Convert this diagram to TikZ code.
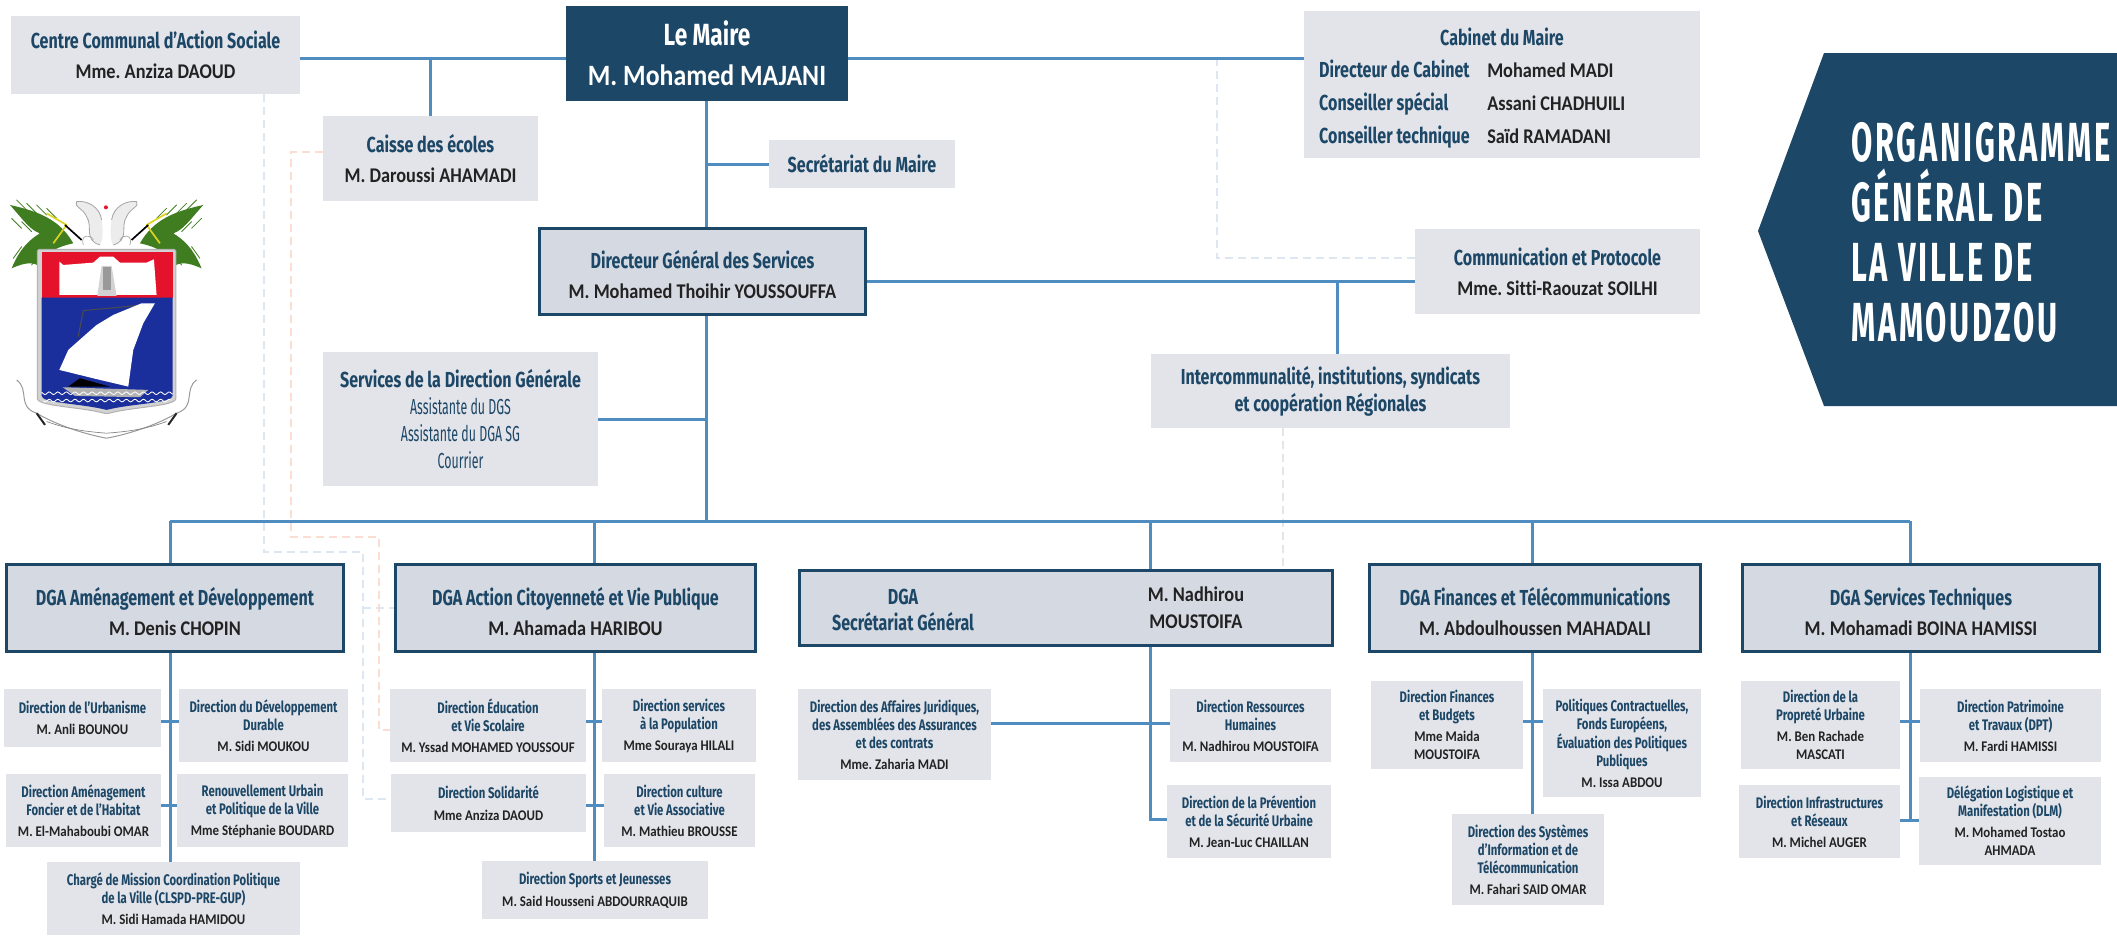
\documentclass[tikz,border=0pt]{standalone}
\usepackage{fontspec}
\setmainfont{Carlito}
\newfontfamily\ttlfont[FakeStretch=0.74,Scale=1.09]{Fira Sans}
\newfontfamily\itmfont[FakeStretch=0.57,Scale=1.09]{Fira Sans}
\newfontfamily\nomfont[FakeStretch=0.875,Scale=1.05,Ligatures=CommonOff]{Carlito}
\newfontfamily\bigfont[FakeStretch=0.56,LetterSpace=5]{Fira Sans}
\frenchspacing
\definecolor{navy}{HTML}{1D4766}
\definecolor{boxgrey}{HTML}{E3E4EA}
\definecolor{dgagrey}{HTML}{D5D9E2}
\definecolor{linkblue}{HTML}{4F8CBF}
\definecolor{nomcol}{HTML}{222222}
\definecolor{dashblue}{HTML}{DCE7F1}
\definecolor{dashpink}{HTML}{FBDDD2}
\definecolor{dashgrey}{HTML}{E4E5E9}
\definecolor{crestred}{HTML}{E4122B}
\definecolor{crestblue}{HTML}{1B2F9C}
\definecolor{crestgreen}{HTML}{3F7D20}
\def\px{0.03cm}
\newcommand{\ttl}[1]{{\color{navy}\ttlfont\bfseries #1}}
\newcommand{\dtl}[1]{\rule{0pt}{21pt}{\color{navy}\ttlfont\bfseries #1}}
\newcommand{\nom}[1]{{\color{nomcol}\nomfont\bfseries #1}}
\newcommand{\itm}[1]{{\color{navy}\itmfont #1}}
\tikzset{
    wh/.style 2 args={minimum width=#1*\px,minimum height=#2*\px},
    box/.style={fill=boxgrey,inner sep=0pt,align=center},
    dga/.style={box,fill=dgagrey,draw=navy,line width=3*\px},
    lvlA/.style={font=\fontsize{17}{25.6}\selectfont},
    lvlB/.style={font=\fontsize{17}{22.8}\selectfont},
    lvlC/.style={font=\fontsize{12}{15.4}\selectfont},
    link/.style={draw=linkblue,line width=3*\px},
    dashlink/.style={line width=1.5*\px,dash pattern=on 8*\px off 5*\px},
    plain/.style={inner sep=0pt,align=center,lvlA},
    frond/.style={crestgreen,line width=0.025cm,line cap=round}
}
\begin{document}
\begin{tikzpicture}[x=\px,y=-\px]
    \useasboundingbox (0,0) rectangle (2117,938);

    \coordinate (ccasA) at (264,552);
    \coordinate (ccasB) at (363,552);
    \coordinate (caisA) at (291,537);
    \coordinate (caisB) at (379,537);
    \coordinate (cabA) at (1217,58);

    % Top boxes
    \node[box,wh={289}{78},lvlA] (ccas) at (155.5,55) {\ttl{Centre Communal d’Action Sociale}\\\nom{Mme. Anziza DAOUD}};
    \node[box,fill=navy,wh={282}{95},font=\fontsize{24}{34}\selectfont] (maire) at (707,53.5) {{\color{white}\ttlfont\bfseries Le Maire}\\{\color{white}\nomfont\bfseries M. Mohamed MAJANI}};
    \node[box,wh={215}{85},lvlA] (caisse) at (430.5,158.5) {\ttl{Caisse des écoles}\\\nom{M. Daroussi AHAMADI}};
    \node[box,wh={186}{48},lvlA] (secr) at (862,164) {\ttl{Secrétariat du Maire}};
    \node[dga,wh={326}{86},lvlA] (dgs) at (702.5,271.5) {\dtl{Directeur Général des Services}\\\nom{M. Mohamed Thoihir YOUSSOUFFA}};
    \node[box,wh={396}{147}] (cab) at (1502,84.5) {};
    \node[box,wh={285}{85},lvlA] (comm) at (1557.5,271.5) {\ttl{Communication et Protocole}\\\nom{Mme. Sitti-Raouzat SOILHI}};
    \node[box,wh={275}{134},lvlB] (serv) at (460.5,419) {\ttl{Services de la Direction Générale}\\\itm{Assistante du DGS}\\\itm{Assistante du DGA SG}\\\itm{Courrier}};
    \node[box,wh={359}{74},lvlB] (inter) at (1330.5,391) {\ttl{Intercommunalité, institutions, syndicats}\\\ttl{et coopération Régionales}};

    % Cabinet rows
    \node[plain] (cabT) at (1502,37) {\ttl{Cabinet du Maire}};
    \node[plain,anchor=base west] (cabA1) at (1319,77) {\ttl{Directeur de Cabinet}};
    \node[plain,anchor=base west] (cabA2) at (1487,77) {\nom{Mohamed MADI}};
    \node[plain,anchor=base west] (cabB1) at (1319,110) {\ttl{Conseiller spécial}};
    \node[plain,anchor=base west] (cabB2) at (1487,110) {\nom{Assani CHADHUILI}};
    \node[plain,anchor=base west] (cabC1) at (1319,143) {\ttl{Conseiller technique}};
    \node[plain,anchor=base west] (cabC2) at (1487,143) {\nom{Saïd RAMADANI}};

    % DGA row
    \node[dga,wh={337}{87},lvlA] (dga1) at (175,608) {\dtl{DGA Aménagement et Développement}\\\nom{M. Denis CHOPIN}};
    \node[dga,wh={360}{87},lvlA] (dga2) at (575.5,608) {\dtl{DGA Action Citoyenneté et Vie Publique}\\\nom{M. Ahamada HARIBOU}};
    \node[dga,wh={533}{75}] (dga3) at (1066,608) {};
    \node[plain,lvlB] (dga3T) at (903,610) {\ttl{DGA}\\\ttl{Secrétariat Général}};
    \node[plain,lvlB] (dga3N) at (1196,608) {\nom{M. Nadhirou}\\\nom{MOUSTOIFA}};
    \node[dga,wh={331}{87},lvlA] (dga4) at (1535,608) {\dtl{DGA Finances et Télécommunications}\\\nom{M. Abdoulhoussen MAHADALI}};
    \node[dga,wh={357}{87},lvlA] (dga5) at (1921,608) {\dtl{DGA Services Techniques}\\\nom{M. Mohamadi BOINA HAMISSI}};

    % Directions
    \node[box,wh={157}{58},lvlC] (urb) at (82.5,718) {\ttl{Direction de l’Urbanisme}\\[3pt]\nom{M. Anli BOUNOU}};
    \node[box,wh={169}{73},lvlC] (dev) at (263.5,725.5) {\ttl{Direction du Développement}\\\ttl{Durable}\\[2.5pt]\nom{M. Sidi MOUKOU}};
    \node[box,wh={155}{73},lvlC] (amen) at (83.5,810.5) {\ttl{Direction Aménagement}\\\ttl{Foncier et de l’Habitat}\\[2.5pt]\nom{M. El-Mahaboubi OMAR}};
    \node[box,wh={171}{73},lvlC] (ren) at (262.5,810.5) {\ttl{Renouvellement Urbain}\\\ttl{et Politique de la Ville}\\[2.5pt]\nom{Mme Stéphanie BOUDARD}};
    \node[box,wh={253}{73},lvlC] (charge) at (173.5,898.5) {\ttl{Chargé de Mission Coordination Politique}\\\ttl{de la Ville (CLSPD-PRE-GUP)}\\[2.5pt]\nom{M. Sidi Hamada HAMIDOU}};
    \node[box,wh={196}{73},lvlC] (edu) at (488,725.5) {\ttl{Direction Éducation}\\\ttl{et Vie Scolaire}\\[2.5pt]\nom{M. Yssad MOHAMED YOUSSOUF}};
    \node[box,wh={154}{73},lvlC] (pop) at (679,725.5) {\ttl{Direction services}\\\ttl{à la Population}\\[2.5pt]\nom{Mme Souraya HILALI}};
    \node[box,wh={195}{58},lvlC] (sol) at (488.5,803) {\ttl{Direction Solidarité}\\[3pt]\nom{Mme Anziza DAOUD}};
    \node[box,wh={151}{73},lvlC] (cul) at (679.5,810.5) {\ttl{Direction culture}\\\ttl{et Vie Associative}\\[2.5pt]\nom{M. Mathieu BROUSSE}};
    \node[box,wh={226}{58},lvlC] (spo) at (595,890) {\ttl{Direction Sports et Jeunesses}\\[3pt]\nom{M. Said Housseni ABDOURRAQUIB}};
    \node[box,wh={193}{91},lvlC] (aff) at (894.5,734.5) {\ttl{Direction des Affaires Juridiques,}\\\ttl{des Assemblées des Assurances}\\\ttl{et des contrats}\\[2.5pt]\nom{Mme. Zaharia MADI}};
    \node[box,wh={161}{73},lvlC] (res) at (1250.5,725.5) {\ttl{Direction Ressources}\\\ttl{Humaines}\\[2.5pt]\nom{M. Nadhirou MOUSTOIFA}};
    \node[box,wh={164}{73},lvlC] (pre) at (1249,821.5) {\ttl{Direction de la Prévention}\\\ttl{et de la Sécurité Urbaine}\\[2.5pt]\nom{M. Jean-Luc CHAILLAN}};
    \node[box,wh={152}{88},lvlC] (fin) at (1447,725) {\ttl{Direction Finances}\\\ttl{et Budgets}\\[2.5pt]\nom{Mme Maida}\\\nom{MOUSTOIFA}};
    \node[box,wh={158}{108},lvlC] (pol) at (1622,743) {\ttl{Politiques Contractuelles,}\\\ttl{Fonds Européens,}\\\ttl{Évaluation des Politiques}\\\ttl{Publiques}\\[2.5pt]\nom{M. Issa ABDOU}};
    \node[box,wh={152}{91},lvlC] (si) at (1528,859.5) {\ttl{Direction des Systèmes}\\\ttl{d’Information et de}\\\ttl{Télécommunication}\\[2.5pt]\nom{M. Fahari SAID OMAR}};
    \node[box,wh={159}{88},lvlC] (pro) at (1820.5,725) {\ttl{Direction de la}\\\ttl{Propreté Urbaine}\\[2.5pt]\nom{M. Ben Rachade}\\\nom{MASCATI}};
    \node[box,wh={181}{73},lvlC] (pat) at (2010.5,725.5) {\ttl{Direction Patrimoine}\\\ttl{et Travaux (DPT)}\\[2.5pt]\nom{M. Fardi HAMISSI}};
    \node[box,wh={161}{73},lvlC] (inf) at (1819.5,821.5) {\ttl{Direction Infrastructures}\\\ttl{et Réseaux}\\[2.5pt]\nom{M. Michel AUGER}};
    \node[box,wh={182}{88},lvlC] (del) at (2010,821) {\ttl{Délégation Logistique et}\\\ttl{Manifestation (DLM)}\\[2.5pt]\nom{M. Mohamed Tostao}\\\nom{AHMADA}};

    % Title arrow
    \fill[navy] (1824,53) -- (2117,53) -- (2117,406) -- (1824,406) -- (1758,231) -- cycle;
    \foreach \nm/\txt/\yy in {titA/ORGANIGRAMME/161,titB/GÉNÉRAL DE/221,titC/LA VILLE DE/281,titD/MAMOUDZOU/341}
        \node[anchor=base west,inner sep=0pt,text=white,font=\fontsize{47}{50}\selectfont\bigfont\bfseries] (\nm) at (1851,\yy) {\txt};

    % Dashed links
    \draw[dashlink,draw=dashblue] (ccasA |- ccas.south) -- (ccasA) -- (ccasB) |- (sol.west |- 0,799);
    \draw[dashlink,draw=dashblue] (ccasB |- dga2.west) -- (dga2.west);
    \draw[dashlink,draw=dashpink] (caisse.west |- 0,152) -| (caisA) -- (caisB) |- (edu.west |- 0,730);
    \draw[dashlink,draw=dashblue] (cabA) |- (comm.west |- 0,258);
    \draw[dashlink,draw=dashgrey] (1283,0 |- inter.south) -- (1283,0 |- dga3.north);

    % Links of the top part
    \coordinate (lineMaire) at (0,58);
    \coordinate (lineDgs) at (0,281);
    \coordinate (trunk) at (706,521);
    \coordinate (interX) at (1337,281);
    \draw[link] (ccas.east |- lineMaire) -- (maire.west |- lineMaire);
    \draw[link] (maire.east |- lineMaire) -- (cab.west |- lineMaire);
    \draw[link] (caisse.north) -- (caisse.north |- lineMaire);
    \draw[link] (trunk |- maire.south) -- (trunk |- dgs.north);
    \draw[link] (trunk |- secr.west) -- (secr.west);
    \draw[link] (dgs.east |- lineDgs) -- (comm.west |- lineDgs);
    \draw[link] (interX) -- (interX |- inter.north);
    \draw[link] (trunk |- dgs.south) -- (trunk);
    \draw[link] (serv.east) -- (trunk |- serv.east);

    % Bus and columns
    \coordinate (colA) at (170,521);
    \coordinate (colB) at (594,521);
    \coordinate (colC) at (1150,521);
    \coordinate (colD) at (1532,521);
    \coordinate (colE) at (1910,521);
    \draw[link] (colA) -- (colE);
    \foreach \cc/\bb in {colA/dga1,colB/dga2,colC/dga3,colD/dga4,colE/dga5}
        \draw[link] (\cc) -- (\cc |- \bb.north);
    \draw[link] (colA |- dga1.south) -- (colA |- charge.north);
    \draw[link] (colB |- dga2.south) -- (colB |- spo.north);
    \draw[link] (colC |- dga3.south) |- (pre.west |- 0,819);
    \draw[link] (colD |- dga4.south) -- (colD |- si.north);
    \draw[link] (colE |- dga5.south) -- (colE |- 0,820);

    % Side branches
    \foreach \lf/\rt/\yy in {urb/dev/721,amen/ren/805,edu/pop/721,sol/cul/805,aff/res/723,fin/pol/721,pro/pat/721,inf/del/820}
        \draw[link] (\lf.east |- 0,\yy) -- (\rt.west |- 0,\yy);

    % Coat of arms, in the units of a 3x crop
    \begin{scope}[shift={(0,190)},x=0.01cm,y=-0.01cm]
        \foreach \m in {1,-1}{
        \begin{scope}[shift={(320,0)},xscale=\m]
            % Palms
            \fill[crestgreen] (-100,160) .. controls (-140,90) and (-200,65) .. (-290,45) .. controls (-250,90) and (-230,120) .. (-200,130) .. controls (-250,160) and (-270,200) .. (-285,235) .. controls (-240,215) and (-215,215) .. (-195,235) .. controls (-190,200) and (-170,175) .. (-100,160) -- cycle;
            \foreach \a/\b in {-270/30,-240/40,-210/45,-180/55,-285/85,-255/95,-225/105}
                \draw[frond] (\a,\b) -- (\a+30,\b+30);
            \foreach \a/\b in {-280/205,-250/210,-225/225,-195/225}
                \draw[frond] (\a,\b) -- (\a+25,\b-35);
            % Yellow and black leaves
            \draw[yellow!85!black,line width=0.05cm,line join=round] (-180,70) -- (-120,105) -- (-160,160);
            \draw[black,line width=0.05cm] (-125,105) -- (-75,150);
            % Sea horses
            \fill[gray!15] (-20,165) .. controls (-70,150) and (-40,110) .. (-60,80) .. controls (-70,55) and (-100,50) .. (-90,35) .. controls (-60,30) and (-20,50) .. (-15,90) .. controls (-10,120) and (-10,150) .. (-20,165);
            \draw[gray!70,line width=0.025cm] (-20,165) .. controls (-70,150) and (-40,110) .. (-60,80) .. controls (-70,55) and (-100,50) .. (-90,35) .. controls (-60,30) and (-20,50) .. (-15,90);
            \draw[gray!70,line width=0.02cm] (-70,165) .. controls (-80,135) and (-50,130) .. (-40,150);
            % Ribbon
            \draw[gray!80,line width=0.03cm] (-270,570) .. controls (-230,600) and (-270,650) .. (-210,670) .. controls (-160,700) and (-80,730) .. (0,745);
            \draw[black!85,line width=0.06cm] (-210,670) -- (-185,705);
            \draw[gray,line width=0.02cm] (-180,695) .. controls (-110,720) and (-60,725) .. (0,730);
        \end{scope}
        }
        \fill[crestred] (318,52) circle (6);
        % Shield
        \draw[gray!60,fill=gray!35,line width=0.03cm,rounded corners=0.05cm] (112,178) -- (528,178) -- (528,620) .. controls (528,650) and (400,650) .. (320,672) .. controls (240,650) and (112,650) .. (112,620) -- cycle;
        \fill[crestred] (125,185) rectangle (518,323);
        \fill[crestblue] (125,323) -- (518,323) -- (518,618) .. controls (518,640) and (400,640) .. (320,660) .. controls (240,640) and (125,640) .. (125,618) -- cycle;
        % Fort
        \fill[white] (178,215) -- (190,225) -- (280,218) -- (300,200) -- (340,200) -- (360,218) -- (440,218) -- (462,208) -- (470,315) -- (178,315) -- cycle;
        \fill[gray!35] (292,318) -- (350,318) -- (335,228) -- (305,228) -- cycle;
        \fill[gray!80] (308,232) rectangle (332,300);
        % Sail
        \draw[black!70,line width=0.03cm] (235,440) -- (250,362) -- (430,345);
        \fill[white] (178,540) -- (205,480) -- (250,440) -- (290,405) -- (340,375) -- (425,340) -- (465,340) -- (430,400) -- (400,480) -- (385,590) -- (300,570) -- cycle;
        \fill[black] (205,590) -- (240,565) -- (330,590) -- cycle;
        % Boat
        \fill[gray!60] (188,592) -- (445,600) -- (420,622) -- (225,618) -- cycle;
        % Waves
        \draw[white,line width=0.025cm] plot[domain=125:518,samples=90] (\x,{610+4*sin(\x*14)});
        \draw[white,line width=0.025cm] plot[domain=130:512,samples=90] (\x,{632+4*sin(\x*14)});
    \end{scope}
\end{tikzpicture}
\end{document}
